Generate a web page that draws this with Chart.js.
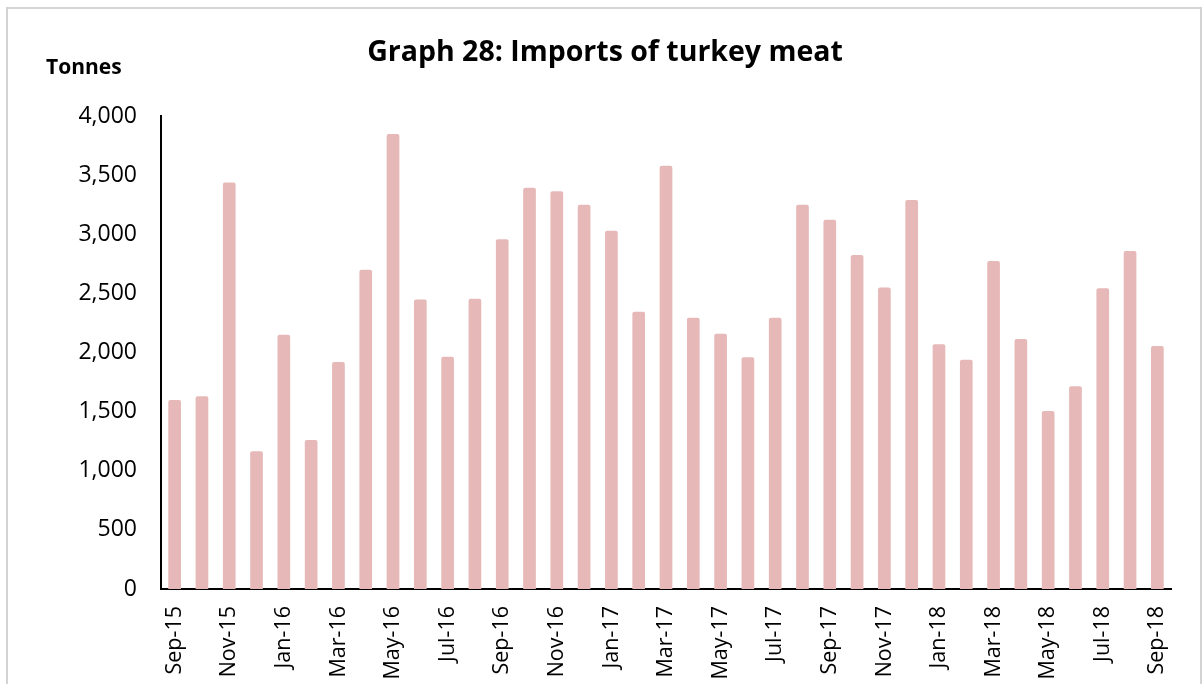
<!DOCTYPE html>
<html lang="en">
  <head>
    <meta charset="UTF-8" />
    <title>Graph 28: Imports of turkey meat</title>
    <style>
      html, body { margin: 0; padding: 0; background: #fff; }
      #wrap { position: relative; width: 1204px; height: 684px; }
    </style>
  </head>
  <body>
    <div id="wrap"><canvas id="chart" width="1204" height="684"></canvas></div>

    <script src="https://cdn.jsdelivr.net/npm/chart.js"></script>

    <script>
      const months = [
        "Sep-15", "Oct-15", "Nov-15", "Dec-15", "Jan-16", "Feb-16", "Mar-16", "Apr-16",
        "May-16", "Jun-16", "Jul-16", "Aug-16", "Sep-16", "Oct-16", "Nov-16", "Dec-16",
        "Jan-17", "Feb-17", "Mar-17", "Apr-17", "May-17", "Jun-17", "Jul-17", "Aug-17",
        "Sep-17", "Oct-17", "Nov-17", "Dec-17", "Jan-18", "Feb-18", "Mar-18", "Apr-18",
        "May-18", "Jun-18", "Jul-18", "Aug-18", "Sep-18",
      ];
      const tonnes = [
        1600, 1630, 3440, 1165, 2150, 1260, 1920, 2700,
        3850, 2450, 1965, 2455, 2960, 3395, 3365, 3250,
        3030, 2345, 3580, 2295, 2160, 1960, 2295, 3250,
        3125, 2825, 2550, 3290, 2070, 1940, 2775, 2115,
        1505, 1715, 2545, 2860, 2055,
      ];
      const yTicks = [0, 500, 1000, 1500, 2000, 2500, 3000, 3500, 4000];

      const font = "'Open Sans', 'Noto Sans', sans-serif";

      // outer frame and the "Tonnes" unit label
      const extras = {
        id: "extras",
        beforeDraw(chart) {
          const c = chart.ctx;
          c.save();
          c.fillStyle = "#fff";
          c.fillRect(0, 0, chart.width, chart.height);
          c.strokeStyle = "#d4d4d4";
          c.lineWidth = 2;
          c.strokeRect(7, 8, 1194, 700);
          c.restore();
        },
        afterDraw(chart) {
          const c = chart.ctx;
          c.save();
          c.fillStyle = "#000";
          c.font = "bold 21px " + font;
          c.textBaseline = "middle";
          c.fillText("Tonnes", 46, 68);
          c.restore();
        },
      };

      new Chart(document.getElementById("chart"), {
        type: "bar",
        data: {
          labels: months,
          datasets: [
            {
              label: "Imports",
              data: tonnes,
              backgroundColor: "#E6B9B8",
              borderWidth: 0,
              borderRadius: { topLeft: 2, topRight: 2 },
              borderSkipped: "bottom",
              barPercentage: 0.465,
              categoryPercentage: 1,
            },
          ],
        },
        options: {
          responsive: false,
          animation: false,
          layout: { padding: { left: 39, right: 33, top: 0, bottom: 0 } },
          plugins: {
            legend: { display: false },
            tooltip: { enabled: false },
            title: {
              display: true,
              text: "Graph 28: Imports of turkey meat",
              color: "#000",
              font: { family: font, size: 28.5, weight: "bold" },
              padding: { top: 36, bottom: 46 },
            },
          },
          scales: {
            x: {
              grid: { display: false, drawTicks: false },
              border: { display: true, color: "#000", width: 2 },
              ticks: {
                color: "#000",
                font: { family: font, size: 21.5 },
                autoSkip: false,
                minRotation: 90,
                maxRotation: 90,
                padding: 17,
                callback: function (v, i) {
                  return i % 2 === 0 ? months[i] : "";
                },
              },
              afterFit(scale) {
                scale.height = 95;
              },
            },
            y: {
              min: 0,
              max: 4000,
              afterBuildTicks(scale) {
                scale.ticks = yTicks.map((v) => ({ value: v }));
              },
              grid: { display: false, drawTicks: false },
              border: { display: true, color: "#000", width: 2 },
              ticks: {
                color: "#000",
                font: { family: font, size: 23 },
                padding: 24,
                callback: (v) => v.toLocaleString("en-US"),
              },
              afterFit(scale) {
                scale.width = 122;
              },
            },
          },
        },
        plugins: [extras],
      });
    </script>
  </body>
</html>
